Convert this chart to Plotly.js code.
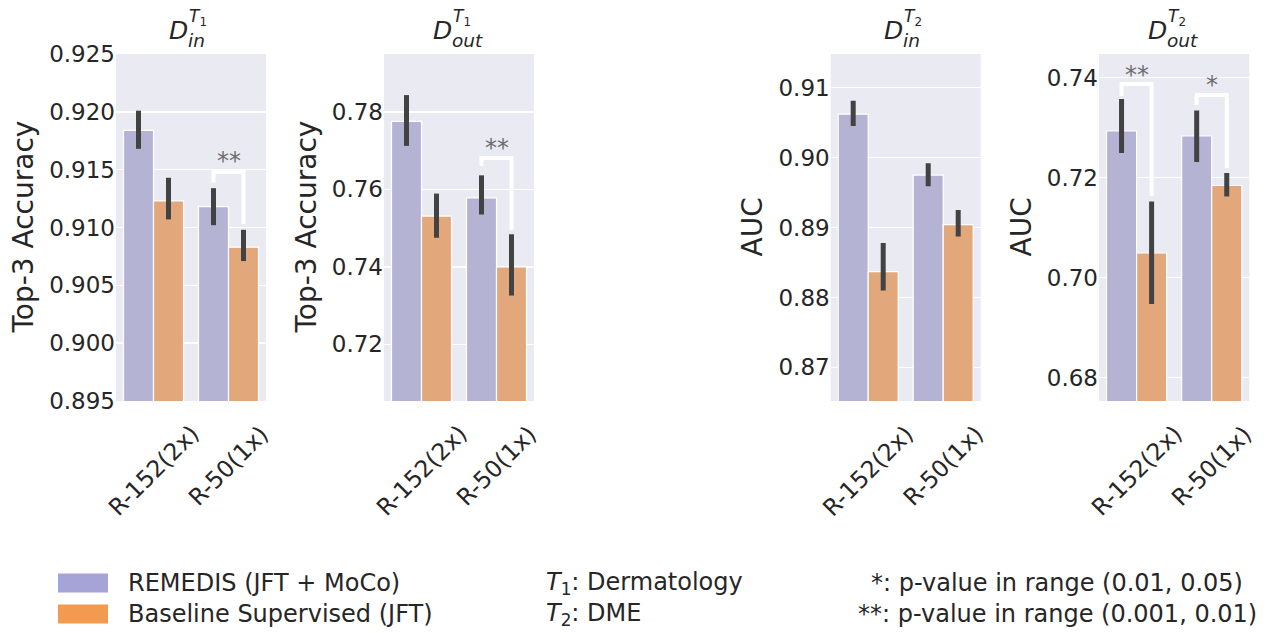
<!DOCTYPE html>
<html>
<head>
<meta charset="utf-8">
<script src="https://cdn.plot.ly/plotly-3.0.1.min.js"></script>
<style>html,body{margin:0;padding:0;background:#fff;}#chart{width:1267px;height:633px;}</style>
</head>
<body>
<div id="chart"></div>
<script>
// ---------------- data ----------------
const categories = ['R-152(2x)', 'R-50(1x)'];
const seriesNames = ['REMEDIS (JFT + MoCo)', 'Baseline Supervised (JFT)'];
const panelMetrics = ['Top-3 Accuracy', 'Top-3 Accuracy', 'AUC', 'AUC'];

// panel 1: D_in^T1
const p1Remedis = [0.9184, 0.9118], p1RemedisLo = [0.9168, 0.9102], p1RemedisHi = [0.9201, 0.9134];
const p1Base    = [0.9123, 0.9083], p1BaseLo    = [0.9107, 0.9071], p1BaseHi    = [0.9143, 0.9098];
// panel 2: D_out^T1
const p2Remedis = [0.7775, 0.7578], p2RemedisLo = [0.7712, 0.7535], p2RemedisHi = [0.7843, 0.7636];
const p2Base    = [0.7531, 0.7400], p2BaseLo    = [0.7475, 0.7326], p2BaseHi    = [0.7589, 0.7484];
// panel 3: D_in^T2
const p3Remedis = [0.9062, 0.8975], p3RemedisLo = [0.9045, 0.8959], p3RemedisHi = [0.9081, 0.8992];
const p3Base    = [0.8837, 0.8904], p3BaseLo    = [0.8810, 0.8887], p3BaseHi    = [0.8878, 0.8925];
// panel 4: D_out^T2
const p4Remedis = [0.7293, 0.7283], p4RemedisLo = [0.7249, 0.7231], p4RemedisHi = [0.7357, 0.7334];
const p4Base    = [0.7049, 0.7184], p4BaseLo    = [0.6947, 0.7162], p4BaseHi    = [0.7152, 0.7209];

const p1Ticks = [0.895, 0.900, 0.905, 0.910, 0.915, 0.920, 0.925];
const p2Ticks = [0.72, 0.74, 0.76, 0.78];
const p3Ticks = [0.87, 0.88, 0.89, 0.90, 0.91];
const p4Ticks = [0.68, 0.70, 0.72, 0.74];

// significance brackets: [category index, left bottom, top, right bottom, star level, star y]
const p1Sig = [[1, 0.9139, 0.9148, 0.9103, '**', 0.9162]];
const p2Sig = [[1, 0.7660, 0.7681, 0.7496, '**', 0.7720]];
const p3Sig = [];
const p4Sig = [[0, 0.7363, 0.7387, 0.7163, '**', 0.7416], [1, 0.7345, 0.7365, 0.7219, '*', 0.7396]];

const legendNotes = ['*: p-value in range (0.01, 0.05)', '**: p-value in range (0.001, 0.01)'];
const taskNotes = ['<i>T</i><sub>1</sub>: Dermatology', '<i>T</i><sub>2</sub>: DME'];

// ---------------- styling / layout ----------------
const W = 1267, H = 633;
const px = x => x / W, py = y => 1 - y / H;
const FONT = 'DejaVu Sans, Liberation Sans, sans-serif';
const TXT = '#262626';
const barColors = ['#b5b3d4', '#e2a87c'];
const swatchColors = ['#a6a3d6', '#f29a4f'];

const panels = [
  {rem: p1Remedis, remLo: p1RemedisLo, remHi: p1RemedisHi, base: p1Base, baseLo: p1BaseLo, baseHi: p1BaseHi,
   ticks: p1Ticks, fmt: '.3f', range: [0.895, 0.925], sig: p1Sig, dom: [116, 266], ytx: 23,
   dl: 168, sup: '1', sub: 'in'},
  {rem: p2Remedis, remLo: p2RemedisLo, remHi: p2RemedisHi, base: p2Base, baseLo: p2BaseLo, baseHi: p2BaseHi,
   ticks: p2Ticks, fmt: '.2f', range: [0.7054, 0.7949], sig: p2Sig, dom: [384, 534], ytx: 306,
   dl: 432, sup: '1', sub: 'out'},
  {rem: p3Remedis, remLo: p3RemedisLo, remHi: p3RemedisHi, base: p3Base, baseLo: p3BaseLo, baseHi: p3BaseHi,
   ticks: p3Ticks, fmt: '.2f', range: [0.8652, 0.9148], sig: p3Sig, dom: [830.7, 980.7], ytx: 752,
   dl: 883, sup: '2', sub: 'in'},
  {rem: p4Remedis, remLo: p4RemedisLo, remHi: p4RemedisHi, base: p4Base, baseLo: p4BaseLo, baseHi: p4BaseHi,
   ticks: p4Ticks, fmt: '.2f', range: [0.6753, 0.7447], sig: p4Sig, dom: [1099, 1249.3], ytx: 1021,
   dl: 1147, sup: '2', sub: 'out'}
];

const yTop = 54, yBot = 401;
const traces = [];
const annotations = [];
const shapes = [];
const layout = {
  width: W, height: H,
  margin: {l: 0, r: 0, t: 0, b: 0},
  paper_bgcolor: '#ffffff',
  plot_bgcolor: '#eaeaf2',
  barmode: 'group', bargap: 0.2, bargroupgap: 0,
  showlegend: false,
  font: {family: FONT, color: TXT}
};

const xIdx = categories.map((c, i) => i);

panels.forEach((p, k) => {
  const n = k === 0 ? '' : String(k + 1);
  const xa = 'x' + n, ya = 'y' + n;
  const mk = (vals, lo, hi, ci) => ({
    type: 'bar', x: xIdx, y: vals, name: seriesNames[ci], xaxis: xa, yaxis: ya,
    marker: {color: barColors[ci], line: {color: '#ffffff', width: 1.2}},
    error_y: {type: 'data', symmetric: false,
      array: vals.map((v, i) => hi[i] - v), arrayminus: vals.map((v, i) => v - lo[i]),
      color: '#424242', thickness: 5, width: 0},
    hoverinfo: 'skip'
  });
  traces.push(mk(p.rem, p.remLo, p.remHi, 0));
  traces.push(mk(p.base, p.baseLo, p.baseHi, 1));

  p.sig.forEach(s => {
    const c = s[0];
    traces.push({type: 'scatter', mode: 'lines', xaxis: xa, yaxis: ya,
      x: [c - 0.2, c - 0.2, c + 0.2, c + 0.2], y: [s[1], s[2], s[2], s[3]],
      line: {color: '#ffffff', width: 4}, hoverinfo: 'skip'});
    annotations.push({xref: xa, yref: ya, x: c, y: s[5], text: s[4], showarrow: false,
      xanchor: 'center', yanchor: 'middle', yshift: -5,
      font: {family: FONT, size: 24, color: '#6e6e6e'}});
  });

  layout['xaxis' + n] = {domain: [px(p.dom[0]), px(p.dom[1])], anchor: ya, range: [-0.5, 1.5],
    showticklabels: false, showgrid: false, zeroline: false, ticks: '', fixedrange: true};
  layout['yaxis' + n] = {domain: [py(yBot), py(yTop)], anchor: xa, range: p.range,
    tickvals: p.ticks, tickformat: p.fmt, showgrid: true, gridcolor: '#ffffff', gridwidth: 1.5,
    zeroline: false, ticks: '', tickfont: {family: FONT, size: 23, color: TXT}, fixedrange: true};

  // y title
  annotations.push({xref: 'paper', yref: 'paper', x: px(p.ytx), y: py((yTop + yBot) / 2),
    text: panelMetrics[k], textangle: -90, showarrow: false, xanchor: 'center', yanchor: 'middle',
    font: {family: FONT, size: 28, color: TXT}});

  // x category labels (rotated)
  categories.forEach((c, i) => {
    annotations.push({xref: xa, yref: 'paper', x: i, y: py(i === 0 ? 471 : 466),
      text: c, textangle: -45, showarrow: false, xanchor: 'center', yanchor: 'middle',
      font: {family: FONT, size: 23.5, color: TXT}});
  });

  // panel title D_{sub}^{T_k}
  annotations.push({xref: 'paper', yref: 'paper', x: px(p.dl - 1), y: py(31), text: '<i>D</i>',
    showarrow: false, xanchor: 'left', yanchor: 'middle', font: {family: FONT, size: 25, color: TXT}});
  annotations.push({xref: 'paper', yref: 'paper', x: px(p.dl + 19), y: py(17.5),
    text: '<i>T</i><sub>' + p.sup + '</sub>',
    showarrow: false, xanchor: 'left', yanchor: 'middle', font: {family: FONT, size: 17, color: TXT}});
  annotations.push({xref: 'paper', yref: 'paper', x: px(p.dl + 18), y: py(40.5), text: '<i>' + p.sub + '</i>',
    showarrow: false, xanchor: 'left', yanchor: 'middle', font: {family: FONT, size: 18.5, color: TXT}});
});

// legend (bottom)
const legY = [583, 614];
seriesNames.forEach((s, i) => {
  shapes.push({type: 'rect', xref: 'paper', yref: 'paper', x0: px(58), x1: px(108),
    y0: py(legY[i] + 9.5), y1: py(legY[i] - 9.5), fillcolor: swatchColors[i], line: {width: 0}});
  annotations.push({xref: 'paper', yref: 'paper', x: px(126), y: py(legY[i]), text: s,
    showarrow: false, xanchor: 'left', yanchor: 'middle', font: {family: FONT, size: 24, color: TXT}});
});
taskNotes.forEach((t, i) => {
  annotations.push({xref: 'paper', yref: 'paper', x: px(544), y: py(legY[i]), text: t,
    showarrow: false, xanchor: 'left', yanchor: 'middle', font: {family: FONT, size: 24, color: TXT}});
});
legendNotes.forEach((t, i) => {
  annotations.push({xref: 'paper', yref: 'paper', x: px(1057), y: py(legY[i]), text: t,
    showarrow: false, xanchor: 'center', yanchor: 'middle', font: {family: FONT, size: 24, color: TXT}});
});

layout.annotations = annotations;
layout.shapes = shapes;

Plotly.newPlot('chart', traces, layout, {staticPlot: true, displayModeBar: false});
</script>
</body>
</html>
